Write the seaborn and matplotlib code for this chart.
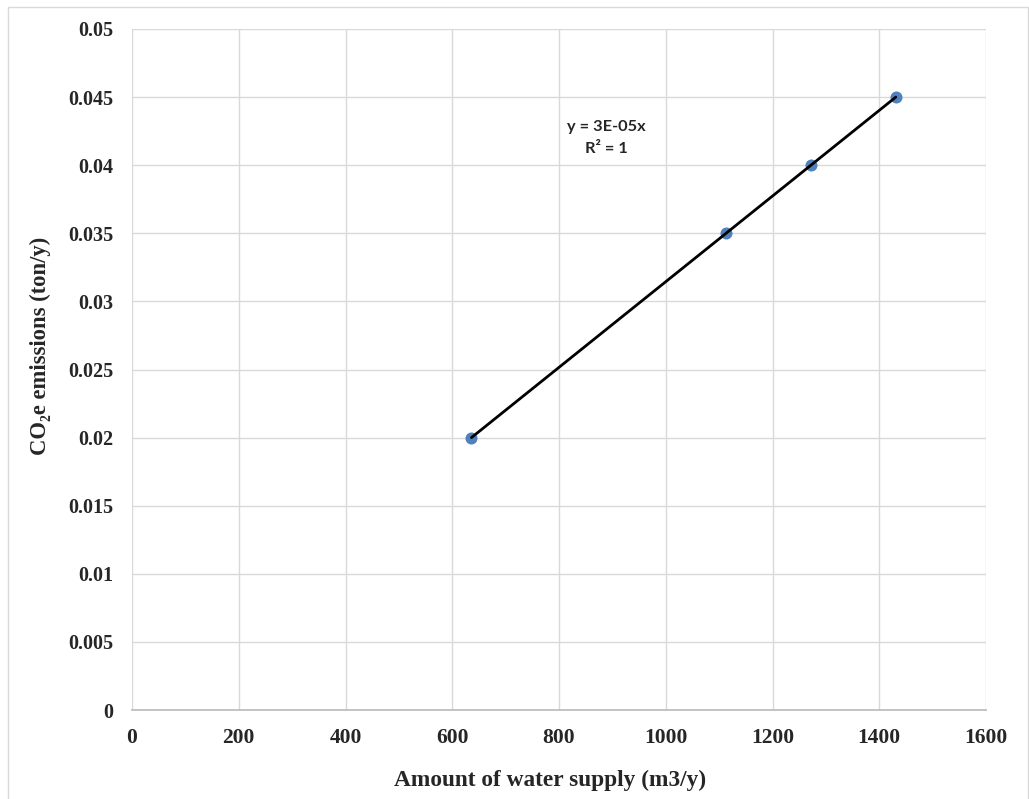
import numpy as np
import pandas as pd
import matplotlib
matplotlib.use("Agg")
import matplotlib.pyplot as plt
import seaborn as sns
from matplotlib.patches import Rectangle

# ---- data ----
water_supply = [636, 1113, 1272, 1431]          # m3/y
co2_emissions = [0.02, 0.035, 0.04, 0.045]      # ton/y
x_ticks = [0, 200, 400, 600, 800, 1000, 1200, 1400, 1600]
y_ticks = [0, 0.005, 0.01, 0.015, 0.02, 0.025, 0.03, 0.035, 0.04, 0.045, 0.05]
y_tick_labels = ["0", "0.005", "0.01", "0.015", "0.02", "0.025", "0.03",
                 "0.035", "0.04", "0.045", "0.05"]
equation_text = "y = 3E-05x\nR² = 1"
x_label = "Amount of water supply (m3/y)"
y_label = "CO₂e emissions (ton/y)"

df = pd.DataFrame({"x": water_supply, "y": co2_emissions})

# linear trendline through origin (Excel style), over data range
slope = np.sum(df.x * df.y) / np.sum(df.x * df.x)
trend = pd.DataFrame({"x": [min(water_supply), max(water_supply)]})
trend["y"] = slope * trend["x"]

sns.set_theme(style="white")
plt.rcParams["font.family"] = ["Liberation Serif", "DejaVu Serif"]

fig = plt.figure(figsize=(10.29, 7.99), dpi=100)
ax = fig.add_axes([132 / 1029, 1 - 710 / 799, (986 - 132) / 1029, (710 - 29) / 799])

sns.scatterplot(data=df, x="x", y="y", ax=ax, color="#4f81bd", s=75,
                edgecolor="#4f81bd", linewidth=0, zorder=3)
sns.lineplot(data=trend, x="x", y="y", ax=ax, color="black", linewidth=2.0,
             zorder=4)

ax.set_xlim(0, 1600)
ax.set_ylim(0, 0.05)
ax.set_xticks(x_ticks)
ax.set_yticks(y_ticks)
ax.set_yticklabels(y_tick_labels)
ax.grid(True, color="#d9d9d9", linewidth=1.0)
ax.set_axisbelow(True)
for side in ["top", "right", "left"]:
    ax.spines[side].set_visible(False)
ax.spines["bottom"].set_color("#bfbfbf")
ax.spines["bottom"].set_linewidth(1.3)
ax.tick_params(axis="both", length=0, labelsize=14.5)
ax.tick_params(axis="x", labelsize=15.5)
ax.tick_params(axis="y", pad=13.5)
ax.tick_params(axis="x", pad=13)
for lbl in ax.get_xticklabels() + ax.get_yticklabels():
    lbl.set_fontweight("bold")

ax.set_xlabel(x_label, fontsize=16.8, fontweight="bold", labelpad=16)
ax.set_ylabel(y_label, fontsize=16.3, fontweight="bold", labelpad=12)
ax.xaxis.label.set_x(0.489)
ax.yaxis.label.set_y(0.5345)

ax.text(888, 0.0420, equation_text, ha="center", va="center",
        fontsize=11.8, fontweight="bold", family=["Lato", "DejaVu Sans"],
        linespacing=1.7)

# outer chart border
fig.patches.append(Rectangle((8 / 1029, -0.01), (1028 - 8) / 1029, 1 - 7 / 799 + 0.01,
                             transform=fig.transFigure, fill=False,
                             edgecolor="#d9d9d9", linewidth=1.0))

fig.savefig("out.png", dpi=100)
